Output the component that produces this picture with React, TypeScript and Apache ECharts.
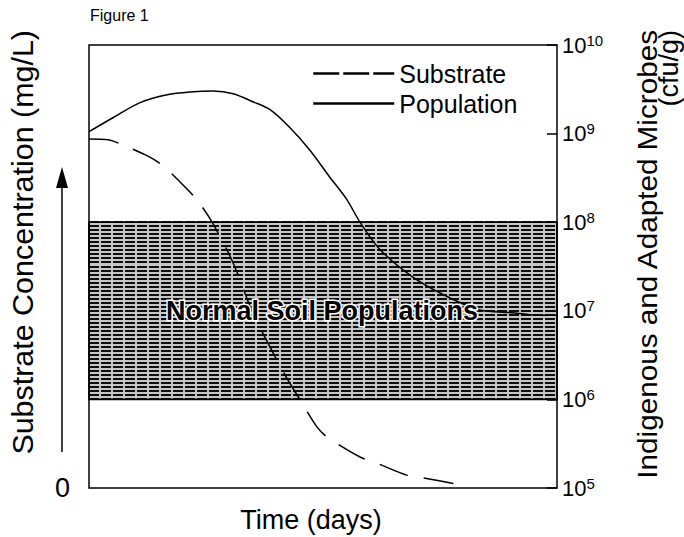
import React, { useEffect, useRef } from 'react';
import * as echarts from 'echarts';

const FONT = '"Liberation Sans", Arial, Helvetica, sans-serif';

// Substrate concentration (relative units, linear left axis, 0 at bottom)
const substrateTime = [0, 4.1, 7.3, 12.6, 15.6, 20.1, 23.1, 26.3, 30.8, 35.0, 38.7, 41.9, 45.1, 48.7, 50.9, 57.9, 61.5, 67.9, 71.4, 79.3];
const substrateConc = [78.8, 78.6, 77.4, 74.9, 72.9, 68.4, 65.0, 60.0, 50.8, 39.5, 31.8, 25.5, 19.9, 13.8, 11.5, 7.0, 5.6, 2.9, 2.3, 0.7];

// Microbial population (cfu/g, log right axis)
const populationTime = [0, 5.1, 10.9, 16.7, 21.6, 26.5, 30.8, 35.0, 38.7, 42.9, 47.2, 51.5, 55.1, 57.9, 62.2, 69.2, 76.5, 83.5, 90.6, 96.4, 100];
const populationCfu = [1.05e9, 1.51e9, 2.24e9, 2.75e9, 2.95e9, 3.02e9, 2.82e9, 2.29e9, 1.86e9, 1.17e9, 6.5e8, 3.2e8, 1.8e8, 1.0e8, 4.9e7, 2.4e7, 1.45e7, 1.02e7, 9.5e6, 8.9e6, 8.9e6];

// Normal soil population band (cfu/g)
const normalBand = [1e6, 1e8];
const rightAxisRange = [1e5, 1e10];
const seriesNames = ['Substrate', 'Population'];
const bandLabel = 'Normal Soil Populations';

export default function App() {
  const ref = useRef<HTMLDivElement>(null);
  useEffect(() => {
    document.body.style.margin = '0';
    const chart = echarts.init(ref.current as HTMLDivElement, null, { renderer: 'svg' });
    const option: any = {
      animation: false,
      backgroundColor: '#fff',
      grid: [
        { left: 89, right: 127, top: 45, bottom: 49, show: true, borderColor: '#000', borderWidth: 1.5, backgroundColor: 'transparent' },
        { left: 89, right: 127, top: 222, bottom: 138, show: false },
      ],
      legend: {
        left: 307,
        top: 56,
        orient: 'vertical',
        itemWidth: 81,
        itemHeight: 14,
        itemGap: 5,
        textStyle: { fontSize: 25, color: '#000', fontFamily: FONT },
        itemStyle: { opacity: 0, borderWidth: 0 },
        lineStyle: { width: 2.5 },
        data: [
          { name: seriesNames[0], lineStyle: { type: [26, 4], width: 2.5 } },
          { name: seriesNames[1] },
        ],
      },
      xAxis: [
        { gridIndex: 0, type: 'value', min: 0, max: 100, show: false },
        { gridIndex: 1, type: 'value', min: 0, max: 100, show: false },
      ],
      yAxis: [
        {
          gridIndex: 0, type: 'value', position: 'left', min: 0, max: 100, interval: 100,
          axisLine: { show: false }, axisTick: { show: false }, splitLine: { show: false },
          axisLabel: { formatter: (v: number) => (v === 0 ? '0' : ''), fontSize: 27, color: '#000', margin: 19, fontFamily: FONT },
        },
        {
          gridIndex: 0, type: 'log', logBase: 10, position: 'right', min: rightAxisRange[0], max: rightAxisRange[1],
          axisLine: { show: false },
          axisTick: { show: true, inside: true, length: 10, lineStyle: { color: '#000', width: 1.5 } },
          splitLine: { show: false },
          axisLabel: {
            margin: 5,
            formatter: (v: number) => '{b|10}{s|' + Math.round(Math.log10(v)) + '}',
            rich: {
              b: { fontSize: 22, color: '#000', fontFamily: FONT },
              s: { fontSize: 15, color: '#000', fontFamily: FONT, padding: [0, 0, 10, 0] },
            },
          },
        },
        {
          gridIndex: 1, type: 'value', min: 0, max: 44, interval: 1,
          axisLine: { show: false }, axisTick: { show: false }, axisLabel: { show: false },
          splitLine: { show: true, lineStyle: { color: '#111', width: 2.2, type: [10, 2] } },
        },
      ],
      series: [
        {
          name: seriesNames[0], type: 'line', xAxisIndex: 0, yAxisIndex: 0,
          data: substrateTime.map((t, i) => [t, substrateConc[i]]),
          smooth: 0.3, symbol: 'none', z: 5,
          itemStyle: { color: '#000' },
          lineStyle: { color: '#000', width: 1.5, type: [30, 16] },
        },
        {
          name: seriesNames[1], type: 'line', xAxisIndex: 0, yAxisIndex: 1,
          data: populationTime.map((t, i) => [t, populationCfu[i]]),
          smooth: 0.3, symbol: 'none', z: 5,
          itemStyle: { color: '#000' },
          lineStyle: { color: '#000', width: 1.5 },
          markArea: {
            silent: true,
            itemStyle: { color: 'rgba(0,0,0,0.22)', borderColor: '#000', borderWidth: 1.8 },
            label: { show: false },
            data: [[{ yAxis: normalBand[0] }, { yAxis: normalBand[1] }]],
          },
        },
        { type: 'line', xAxisIndex: 1, yAxisIndex: 2, data: [], silent: true },
      ],
      graphic: [
        { type: 'text', x: 90, y: 15, z: 100, style: { text: 'Figure 1', fontSize: 16, fontFamily: FONT, fill: '#000', align: 'left', verticalAlign: 'middle' } },
        { type: 'text', x: 23, y: 30, rotation: Math.PI / 2, scaleX: 1.05, z: 100, style: { text: 'Substrate Concentration (mg/L)', fontSize: 29, fontFamily: FONT, fill: '#000', align: 'right', verticalAlign: 'middle' } },
        { type: 'text', x: 647, y: 30, rotation: Math.PI / 2, scaleX: 1.06, z: 100, style: { text: 'Indigenous and Adapted Microbes', fontSize: 28, fontFamily: FONT, fill: '#000', align: 'right', verticalAlign: 'middle' } },
        { type: 'text', x: 669, y: 30, rotation: Math.PI / 2, z: 100, style: { text: '(cfu/g)', fontSize: 27, fontFamily: FONT, fill: '#000', align: 'right', verticalAlign: 'middle' } },
        { type: 'text', x: 311, y: 520, z: 100, style: { text: 'Time (days)', fontSize: 27, fontFamily: FONT, fill: '#000', align: 'center', verticalAlign: 'middle' } },
        { type: 'text', x: 322, y: 311, z: 100, style: { text: bandLabel, fontSize: 27, fontWeight: 'bold', fontFamily: FONT, fill: '#000', stroke: '#fff', lineWidth: 3, align: 'center', verticalAlign: 'middle' } },
        { type: 'line', z: 100, shape: { x1: 62, y1: 452, x2: 62, y2: 182 }, style: { stroke: '#000', lineWidth: 1.5 } },
        { type: 'polygon', z: 100, shape: { points: [[62, 167], [56, 188], [68, 188]] }, style: { fill: '#000' } },
      ],
    };
    chart.setOption(option);
    return () => chart.dispose();
  }, []);
  return <div ref={ref} style={{ width: 684, height: 537 }} />;
}
